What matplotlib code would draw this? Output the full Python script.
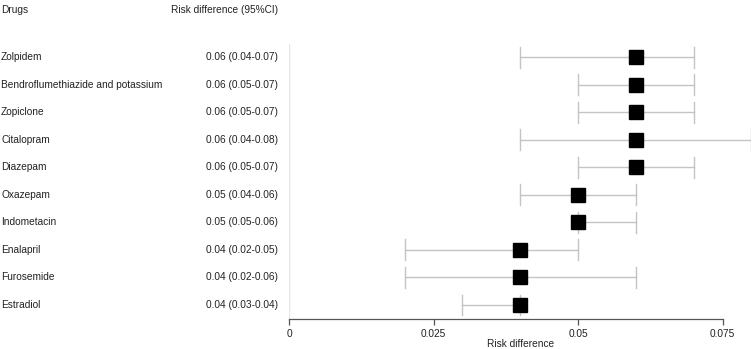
import matplotlib
matplotlib.use("Agg")
import matplotlib.pyplot as plt
import matplotlib.transforms as mtransforms

drugs = ["Zolpidem", "Bendroflumethiazide and potassium", "Zopiclone", "Citalopram",
         "Diazepam", "Oxazepam", "Indometacin", "Enalapril", "Furosemide", "Estradiol"]
estimate = [0.06, 0.06, 0.06, 0.06, 0.06, 0.05, 0.05, 0.04, 0.04, 0.04]
lower = [0.04, 0.05, 0.05, 0.04, 0.05, 0.04, 0.05, 0.02, 0.02, 0.03]
upper = [0.07, 0.07, 0.07, 0.08, 0.07, 0.06, 0.06, 0.05, 0.06, 0.04]
ci_labels = ["0.06 (0.04-0.07)", "0.06 (0.05-0.07)", "0.06 (0.05-0.07)", "0.06 (0.04-0.08)",
             "0.06 (0.05-0.07)", "0.05 (0.04-0.06)", "0.05 (0.05-0.06)", "0.04 (0.02-0.05)",
             "0.04 (0.02-0.06)", "0.04 (0.03-0.04)"]
xticks = [0, 0.025, 0.05, 0.075]
xtick_labels = ["0", "0.025", "0.05", "0.075"]

plt.rcParams['font.family'] = ['Liberation Sans', 'DejaVu Sans']
FS = 7.3

W, H = 752, 349
fig = plt.figure(figsize=(W / 100, H / 100), dpi=100)
ax_left, ax_right = 289 / W, 751.4 / W
ax_top, ax_bottom = 1 - 44 / H, 1 - 319 / H
ax = fig.add_axes([ax_left, ax_bottom, ax_right - ax_left, ax_top - ax_bottom])

n = len(drugs)
ys = [n - i for i in range(n)]

ax.axvline(0, color="#e6e6e6", lw=1, zorder=0)
for y, lo, hi, est in zip(ys, lower, upper, estimate):
    ax.plot([lo, hi], [y, y], color="#c4c4c4", lw=1, zorder=1)
    for v in (lo, hi):
        ax.plot([v, v], [y - 0.38, y + 0.38], color="#c4c4c4", lw=1, zorder=1)
    ax.plot([est], [y], marker="s", markersize=10.2, color="black", linestyle="none", zorder=3)

ax.set_xlim(0, 0.08)
ax.set_ylim(0.49, 10.48)
for s in ["top", "right", "left"]:
    ax.spines[s].set_visible(False)
ax.spines["bottom"].set_bounds(0, 0.075)
ax.spines["bottom"].set_color("#555555")
ax.spines["bottom"].set_linewidth(0.9)
ax.set_yticks([])
ax.set_xticks(xticks)
ax.set_xticklabels(xtick_labels)
ax.tick_params(axis="x", length=4.5, width=0.9, color="#555555", labelsize=FS, pad=3, labelcolor="#222222")

fig.text((289 + 0.04 * 5780) / W, 1 - 344 / H, "Risk difference", ha="center", va="center",
         fontsize=FS, color="#222222")

trans = mtransforms.blended_transform_factory(fig.transFigure, ax.transData)
for y, d, c in zip(ys, drugs, ci_labels):
    ax.text(1 / W, y, d, transform=trans, ha="left", va="center", fontsize=FS, color="#222222")
    ax.text(278 / W, y, c, transform=trans, ha="right", va="center", fontsize=FS, color="#222222")

fig.text(1 / W, 1 - 10 / H, "Drugs", ha="left", va="center", fontsize=FS, color="#222222")
fig.text(278 / W, 1 - 10 / H, "Risk difference (95%CI)", ha="right", va="center", fontsize=FS, color="#222222")

fig.savefig("out.png", dpi=100)
